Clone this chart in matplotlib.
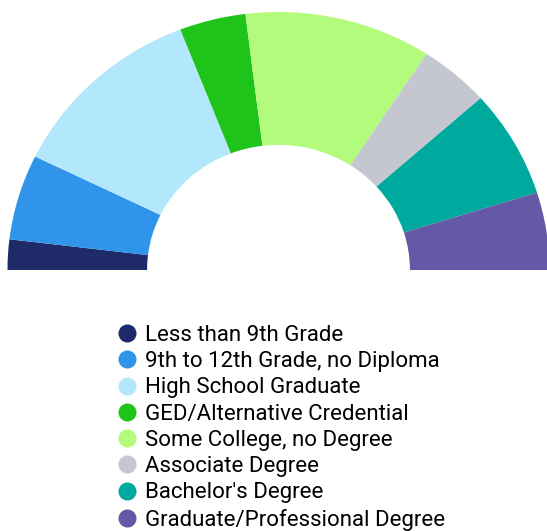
import matplotlib
matplotlib.use('Agg')
import matplotlib.pyplot as plt
from matplotlib.lines import Line2D

# share of adults by educational attainment (%)
categories = ['Less than 9th Grade', '9th to 12th Grade, no Diploma',
              'High School Graduate', 'GED/Alternative Credential',
              'Some College, no Degree', 'Associate Degree',
              "Bachelor's Degree", 'Graduate/Professional Degree']
shares = [3.8, 10.7, 23.7, 7.9, 22.3, 8.4, 13.5, 9.7]
colors = ['#1e2b68', '#3094ea', '#b3e8fc', '#1fc41a',
          '#b3fb7d', '#c4c6d0', '#00a99d', '#6359a6']

plt.rcParams['font.family'] = ['Roboto', 'DejaVu Sans']

W, H = 547, 531
fig = plt.figure(figsize=(W / 100, H / 100), dpi=100)

# half donut: pad with an invisible wedge equal to the total
left_px, right_px, base_px, top_px = 7.5, 549.5, 270, 12
ax = fig.add_axes([left_px / W, (H - base_px) / H,
                   (right_px - left_px) / W, (base_px - top_px) / H])
wedges, _ = ax.pie(shares + [sum(shares)], colors=colors + ['none'],
                   startangle=180, counterclock=False, radius=1,
                   wedgeprops=dict(width=0.515, linewidth=0))
wedges[-1].set_visible(False)
ax.set_aspect('auto')
ax.set_xlim(-1, 1)
ax.set_ylim(0, 1)
ax.axis('off')

handles = [Line2D([], [], marker='o', linestyle='none', markersize=13,
                  markerfacecolor=c, markeredgewidth=0) for c in colors]
fig.legend(handles, categories, loc='upper left',
           bbox_to_anchor=(118 / W, 1 - 325 / H), frameon=False,
           fontsize=16, handlelength=0.8, handletextpad=0.41,
           labelspacing=0.235, borderpad=0, borderaxespad=0)

fig.savefig('out.png', dpi=100)
